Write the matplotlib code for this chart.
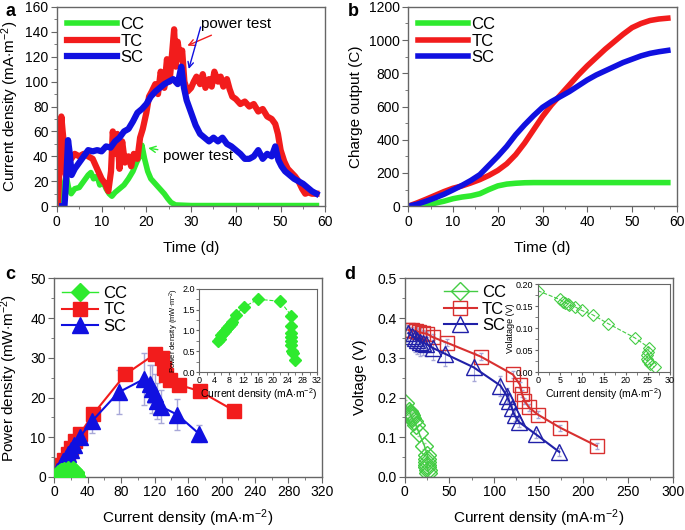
import numpy as np
import matplotlib
matplotlib.use('Agg')
import matplotlib.pyplot as plt
from matplotlib.ticker import AutoMinorLocator, MultipleLocator, FormatStrFormatter

plt.rcParams['font.family'] = ['Liberation Sans', 'DejaVu Sans']
plt.rcParams['mathtext.fontset'] = 'custom'
plt.rcParams['mathtext.rm'] = 'Liberation Sans'
plt.rcParams['mathtext.it'] = 'Liberation Sans:italic'

# ---- panel a: current density vs time ----
t_tc = [0.2, 0.8, 1.0, 1.3, 1.7, 2.0, 2.4, 2.8, 3.2, 4, 5, 6, 7, 8, 9, 10, 10.8, 11.5, 12.1, 12.5,
        13, 13.5, 14, 14.6, 15.2, 16, 16.6, 17.2, 18, 18.6, 19.2, 20, 20.6, 21.2, 22, 22.6, 23.2, 24,
        24.6, 25.2, 25.8, 26.2, 26.6, 27, 27.5, 28, 28.5, 29.2, 30, 30.6, 31.2, 32, 32.6, 33.2, 34,
        34.6, 35.2, 36, 36.6, 37.2, 38, 38.6, 39.2, 40, 41, 42, 43, 44, 45, 46, 47, 48, 48.8, 49.4,
        50, 50.8, 51.6, 52.4, 53.2, 54, 54.8, 55.5, 56.2, 57, 58]
j_tc = [0, 45, 72, 60, 45, 25, 35, 42, 38, 42, 40, 42, 40, 38, 30, 22, 18, 12, 28, 60,
        42, 58, 30, 52, 35, 40, 32, 42, 38, 55, 62, 75, 88, 92, 98, 90, 108, 95,
        118, 100, 125, 142, 112, 132, 118, 125, 100, 92, 95, 100, 104, 98, 106, 95, 102,
        96, 108, 100, 104, 96, 102, 94, 88, 86, 82, 84, 80, 82, 76, 78, 72, 70, 66, 58,
        45, 36, 30, 27, 24, 20, 14, 10, 11, 10, 10]
t_sc = [1.2, 1.7, 2.1, 2.5, 2.9, 3.3, 4, 5, 6, 7, 8, 9, 10, 11, 12, 13, 14, 15, 16, 17, 18, 19, 20,
        21, 22, 23, 24, 25, 26, 27, 27.8, 28.4, 29, 30, 31, 32, 33, 34, 35, 36, 37, 38, 39, 40, 41,
        42, 43, 44, 45, 46, 47, 48, 48.8, 49.5, 50.2, 51, 52, 53, 54, 55, 56, 57, 58]
j_sc = [0, 0, 22, 53, 42, 25, 30, 35, 40, 45, 44, 45, 44, 48, 47, 52, 55, 60, 62, 68, 75, 78, 82,
        88, 92, 95, 98, 100, 102, 98, 112, 95, 85, 75, 65, 58, 55, 52, 55, 52, 55, 50, 48, 45, 42,
        38, 38, 40, 45, 38, 42, 40, 48, 37, 32, 28, 25, 22, 20, 18, 15, 12, 10]
t_cc = [0.3, 1, 1.6, 2.1, 2.6, 3.2, 4, 5, 6, 7, 7.6, 8.2, 9, 9.6, 10.3, 11, 11.7, 12.3, 13, 14,
        15, 16, 17, 17.8, 18.5, 19, 19.6, 20.3, 21, 22, 23, 24, 24.8, 25.5, 26.5, 30, 40, 50, 58]
j_cc = [0, 10, 18, 24, 15, 10, 14, 15, 20, 25, 27, 22, 24, 17, 20, 14, 10, 8, 11, 14,
        17, 22, 28, 35, 40, 49, 38, 28, 22, 18, 14, 10, 6, 3, 1, 0.5, 0.5, 0.5, 0.5]

# ---- panel b: charge output ----
t_q = [0, 2, 4, 6, 8, 10, 12, 14, 16, 18, 20, 22, 24, 26, 28, 30, 32, 34, 36, 38,
       40, 42, 44, 46, 48, 50, 52, 54, 56, 58]
q_cc = [0, 4, 10, 18, 30, 45, 55, 62, 75, 100, 122, 133, 138, 141, 142, 142, 142, 142, 142, 142,
        142, 142, 142, 142, 142, 142, 142, 142, 142, 142]
q_tc = [0, 20, 42, 65, 88, 108, 122, 140, 160, 185, 215, 255, 310, 380, 460, 540, 610, 670, 730, 790,
        845, 895, 945, 990, 1035, 1075, 1100, 1118, 1127, 1132]
q_sc = [0, 12, 30, 50, 72, 98, 125, 155, 190, 245, 300, 360, 430, 490, 545, 595, 630, 660, 690, 725,
        760, 790, 815, 840, 865, 885, 905, 920, 930, 938]

# ---- panels c/d: polarization and power curves ----
i_cc = [5, 5.5, 6, 6.5, 7, 7.5, 8, 8.5, 9, 10, 12, 16, 22, 25, 25, 25, 24.8, 24.8, 25, 25.2, 25.5, 26]
p_cc = [0.75, 0.8, 0.88, 0.93, 0.98, 1.05, 1.1, 1.15, 1.2, 1.38, 1.56, 1.75, 1.7, 1.35, 1.1, 0.95,
        0.85, 0.75, 0.65, 0.5, 0.45, 0.28]
i_cc_v = [0, 5, 5.8, 6.3, 6.8, 7.2, 8.5, 10, 12.5, 16, 22, 25.3, 25, 24.8, 24.8, 25, 25.5, 26.5]
v_cc = [0.185, 0.165, 0.16, 0.158, 0.155, 0.152, 0.148, 0.14, 0.13, 0.11, 0.078, 0.055, 0.045,
        0.038, 0.03, 0.025, 0.018, 0.011]

i_tc = [4, 8, 12, 16, 20, 25, 31, 47, 85, 121, 129, 131, 134, 139, 149, 174, 215]
p_tc = [1.5, 3.0, 4.4, 5.8, 7.2, 9.0, 10.9, 15.9, 25.8, 31.0, 29.9, 27.5, 25.7, 24.3, 23.2, 21.6, 16.7]
p_tc_err = [0.2, 0.3, 0.3, 0.4, 0.4, 0.5, 0.5, 0.6, 1.0, 0.8, 0.8, 0.8, 0.8, 0.8, 0.8, 0.8, 0.8]
v_tc = [0.37, 0.37, 0.368, 0.365, 0.362, 0.36, 0.352, 0.338, 0.303, 0.258, 0.232, 0.21, 0.192,
        0.175, 0.157, 0.124, 0.078]
v_tc_err = [0.008, 0.008, 0.008, 0.008, 0.008, 0.008, 0.008, 0.008, 0.008, 0.008, 0.008, 0.008,
            0.008, 0.008, 0.008, 0.008, 0.008]

i_sc = [4, 8, 11, 14, 17, 20, 24, 31, 45, 77, 107, 114, 117, 120, 123, 128, 147, 173]
p_sc = [1.4, 2.8, 3.9, 4.8, 5.8, 6.8, 8.0, 10.1, 14.0, 21.3, 24.6, 23.4, 22.2, 20.8, 19.1, 17.7, 15.7, 10.9]
p_sc_err = [0.3, 0.5, 0.6, 0.8, 1.0, 1.0, 1.2, 1.5, 3.0, 5.5, 6.5, 4.8, 6.0, 5.0, 4.5, 4.2, 3.8, 2.2]
v_sc = [0.362, 0.355, 0.35, 0.345, 0.34, 0.338, 0.335, 0.325, 0.31, 0.276, 0.23, 0.205, 0.19,
        0.173, 0.155, 0.138, 0.107, 0.063]
v_sc_err = [0.02, 0.03, 0.035, 0.035, 0.035, 0.03, 0.03, 0.03, 0.03, 0.035, 0.025, 0.02, 0.02,
            0.015, 0.015, 0.012, 0.01, 0.01]

GREEN = '#2eea2e'
RED = '#f21c1c'
BLUE = '#1010e0'
ERR = '#a8a8d8'
FRAME = '#666666'
LAB = 11


def style(ax, minor=True):
    for s in ax.spines.values():
        s.set_color(FRAME)
        s.set_linewidth(1.0)
    ax.tick_params(which='both', direction='out', top=False, right=False,
                   color=FRAME, labelsize=10, pad=2)
    ax.tick_params(which='major', length=4)
    ax.tick_params(which='minor', length=2.5)
    if minor:
        ax.xaxis.set_minor_locator(AutoMinorLocator(2))
        ax.yaxis.set_minor_locator(AutoMinorLocator(2))


def style_inset(axi):
    for s in axi.spines.values():
        s.set_color(FRAME)
        s.set_linewidth(0.8)
    axi.tick_params(which='both', direction='out', labelsize=6.5, length=2, pad=1, color=FRAME)
    axi.xaxis.set_minor_locator(AutoMinorLocator(2))
    axi.yaxis.set_minor_locator(AutoMinorLocator(2))


fig = plt.figure(figsize=(6.85, 5.3), dpi=100)

# a
ax = fig.add_axes([0.083, 0.611, 0.392, 0.376])
ax.plot(t_cc, j_cc, color=GREEN, lw=4, label='CC', solid_joinstyle='round')
ax.plot(t_tc, j_tc, color=RED, lw=4.5, label='TC', solid_joinstyle='round')
ax.plot(t_sc, j_sc, color=BLUE, lw=4.5, label='SC', solid_joinstyle='round')
ax.set_xlim(0, 60)
ax.set_ylim(0, 160)
ax.xaxis.set_major_locator(MultipleLocator(10))
ax.yaxis.set_major_locator(MultipleLocator(20))
style(ax)
ax.set_xlabel('Time (d)', fontsize=LAB, labelpad=9)
ax.set_ylabel('Current density (mA$\\cdot$m$^{-2}$)', fontsize=LAB, labelpad=3)
ax.legend(loc='upper left', frameon=False, fontsize=12, handlelength=3.0,
          handletextpad=0.2, labelspacing=0.1, borderaxespad=0.2)
ax.annotate('power test', xy=(28.6, 128), xytext=(32.3, 146), fontsize=11,
            va='center', arrowprops=dict(arrowstyle='->', color=RED, lw=1))
ax.annotate('', xy=(29.3, 108), xytext=(32.3, 146),
            arrowprops=dict(arrowstyle='->', color=BLUE, lw=1))
ax.annotate('power test', xy=(19.8, 47), xytext=(23.8, 40), fontsize=11,
            va='center', arrowprops=dict(arrowstyle='->', color=GREEN, lw=1))
fig.text(0.008, 0.978, 'a', fontsize=13, fontweight='bold', va='center')

# b
ax = fig.add_axes([0.596, 0.611, 0.392, 0.376])
ax.plot(t_q, q_cc, color=GREEN, lw=4, label='CC')
ax.plot(t_q, q_tc, color=RED, lw=4, label='TC')
ax.plot(t_q, q_sc, color=BLUE, lw=4, label='SC')
ax.set_xlim(0, 60)
ax.set_ylim(0, 1200)
ax.xaxis.set_major_locator(MultipleLocator(10))
ax.yaxis.set_major_locator(MultipleLocator(200))
style(ax)
ax.set_xlabel('Time (d)', fontsize=LAB, labelpad=9)
ax.set_ylabel('Charge output (C)', fontsize=LAB, labelpad=4)
ax.legend(loc='upper left', frameon=False, fontsize=12, handlelength=3.0,
          handletextpad=0.2, labelspacing=0.1, borderaxespad=0.2)
fig.text(0.508, 0.978, 'b', fontsize=13, fontweight='bold', va='center')

# c
ax = fig.add_axes([0.079, 0.1, 0.391, 0.375])
ax.errorbar(i_tc, p_tc, yerr=p_tc_err, fmt='none', ecolor=ERR, elinewidth=1, capsize=2, zorder=1)
ax.errorbar(i_sc, p_sc, yerr=p_sc_err, fmt='none', ecolor=ERR, elinewidth=1, capsize=2, zorder=1)
ax.plot(i_cc, p_cc, color=GREEN, marker='D', ms=9, lw=1, ls='-', label='CC', zorder=3)
ax.plot(i_tc, p_tc, color=RED, marker='s', ms=10, lw=1.5, label='TC', zorder=2)
ax.plot(i_sc, p_sc, color=BLUE, marker='^', ms=11, lw=1.5, label='SC', zorder=2)
ax.set_xlim(0, 320)
ax.set_ylim(0, 50)
ax.xaxis.set_major_locator(MultipleLocator(40))
ax.yaxis.set_major_locator(MultipleLocator(10))
style(ax)
ax.set_xlabel('Current density (mA$\\cdot$m$^{-2}$)', fontsize=LAB, labelpad=6)
ax.set_ylabel('Power density (mW$\\cdot$m$^{-2}$)', fontsize=LAB, labelpad=7)
ax.legend(loc='upper left', frameon=False, fontsize=12, handlelength=2.2,
          handletextpad=0.3, labelspacing=0.1, borderaxespad=0.05)
fig.text(0.008, 0.482, 'c', fontsize=13, fontweight='bold', va='center')

axi = fig.add_axes([0.291, 0.298, 0.172, 0.157])
axi.plot(i_cc, p_cc, color=GREEN, marker='D', ms=6, lw=0.8, ls='--')
axi.set_xlim(0, 32)
axi.set_ylim(0, 2.0)
axi.xaxis.set_major_locator(MultipleLocator(4))
axi.yaxis.set_major_locator(MultipleLocator(0.5))
style_inset(axi)
axi.set_xlabel('Current density (mA$\\cdot$m$^{-2}$)', fontsize=7.5, labelpad=1)
axi.set_ylabel('Power density (mW$\\cdot$m$^{-2}$)', fontsize=5.5, labelpad=1)

# d
ax = fig.add_axes([0.591, 0.1, 0.391, 0.375])
ax.errorbar(i_cc_v, v_cc, yerr=0.008, fmt='none', ecolor='#9ad79a', elinewidth=0.8, capsize=1.5, zorder=1)
ax.errorbar(i_tc, v_tc, yerr=v_tc_err, fmt='none', ecolor=ERR, elinewidth=0.8, capsize=1.5, zorder=1)
ax.errorbar(i_sc, v_sc, yerr=v_sc_err, fmt='none', ecolor=ERR, elinewidth=0.8, capsize=1.5, zorder=1)
ax.plot(i_cc_v, v_cc, color='#44cc44', marker='D', ms=9, mfc='none', mew=1, lw=1, label='CC', zorder=2)
ax.plot(i_tc, v_tc, color='#d83030', marker='s', ms=10, mfc='none', mew=1, lw=1.5, label='TC', zorder=2)
ax.plot(i_sc, v_sc, color='#2020a8', marker='^', ms=11, mfc='none', mew=1, lw=1.5, label='SC', zorder=2)
ax.set_xlim(0, 300)
ax.set_ylim(0, 0.5)
ax.xaxis.set_major_locator(MultipleLocator(50))
ax.yaxis.set_major_locator(MultipleLocator(0.1))
style(ax)
ax.set_xlabel('Current density (mA$\\cdot$m$^{-2}$)', fontsize=LAB, labelpad=6)
ax.set_ylabel('Voltage (V)', fontsize=LAB, labelpad=7)
ax.legend(loc='upper left', frameon=False, fontsize=12, handlelength=2.0,
          handletextpad=0.3, labelspacing=0.1, borderaxespad=0.0, bbox_to_anchor=(0.12, 1.0))
fig.text(0.503, 0.482, 'd', fontsize=13, fontweight='bold', va='center')

axi = fig.add_axes([0.785, 0.298, 0.193, 0.166])
axi.plot(i_cc_v, v_cc, color='#44cc44', marker='D', ms=6, mfc='none', mew=0.8, lw=0.8, ls='--')
axi.set_xlim(0, 30)
axi.set_ylim(0, 0.2)
axi.xaxis.set_major_locator(MultipleLocator(5))
axi.yaxis.set_major_locator(MultipleLocator(0.05))
axi.yaxis.set_major_formatter(FormatStrFormatter('%.2f'))
style_inset(axi)
axi.set_xlabel('Current density (mA$\\cdot$m$^{-2}$)', fontsize=7.5, labelpad=1)
axi.set_ylabel('Volatage (V)', fontsize=6.5, labelpad=1)

fig.savefig('out.png', dpi=100)
